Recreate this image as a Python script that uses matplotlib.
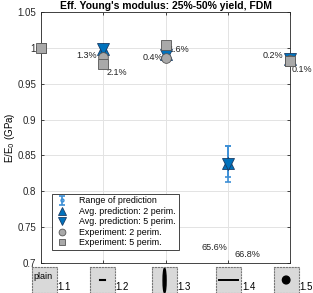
import matplotlib
matplotlib.use('Agg')
import matplotlib.pyplot as plt
from matplotlib.patches import Ellipse
import numpy as np

plt.rcParams['font.family'] = ['Liberation Sans', 'DejaVu Sans']

# data (1.1 is the reference case: no prediction marker drawn)
cases = [1, 2, 3, 4, 5]
case_labels = ['1.1', '1.2', '1.3', '1.4', '1.5']
pred_2p = [np.nan, 0.999, 0.991, 0.839, 0.985]
pred_5p = [np.nan, 0.998, 0.990, 0.838, 0.984]
exp_2p = [1.000, 0.987, 0.986, 0.506, 0.983]
exp_5p = [1.000, 0.978, 1.004, 0.502, 0.982]
range_lo = [0.820, 0.8125]
range_hi = [0.8635, 0.8635]
range_x = [4, 4]
range_mid = [0.839, 0.838]
err_labels = ['1.3%', '2.1%', '0.4%', '1.6%', '65.6%', '66.8%', '0.2%', '0.1%']
err_x = [1.90, 2.05, 2.96, 3.04, 3.58, 4.10, 4.89, 5.03]
err_y = [0.989, 0.965, 0.987, 0.998, 0.722, 0.7125, 0.989, 0.970]
err_ha = ['right', 'left', 'right', 'left', 'left', 'left', 'right', 'left']

blue = '#0072BD'
lblue = '#3d8fd6'
gray = '#a9a9a9'

fig = plt.figure(figsize=(3.13, 2.93), dpi=100)
ax = fig.add_axes([0.131, 0.1024, 0.796, 0.8566])

eb = None
for x, m, lo, hi in zip(range_x, range_mid, range_lo, range_hi):
    eb = ax.errorbar([x], [m], yerr=[[m - lo], [hi - m]], fmt='o', color=lblue,
                     ms=3, mfc='none', mec=lblue, elinewidth=1.2, capsize=2.5,
                     capthick=1.2, zorder=3)
h1, = ax.plot(cases, pred_2p, '^', ms=8, color=blue, mec='#1a3d66', mew=0.6,
              ls='none', zorder=4, clip_on=False)
h2, = ax.plot(cases, pred_5p, 'v', ms=8, color=blue, mec='#1a3d66', mew=0.6,
              ls='none', zorder=4, clip_on=False)
# experiments at 1.4 lie far below the axis; keep them clipped
h3, = ax.plot(cases, exp_2p, 'o', ms=7, color=gray, mec='#555555', mew=0.6,
              ls='none', zorder=5)
h4, = ax.plot(cases, exp_5p, 's', ms=6.5, color=gray, mec='#555555', mew=0.6,
              ls='none', zorder=5)
# unclipped copies for points on the axis edges
edge = [0, 4]
ax.plot([cases[i] for i in edge], [exp_2p[i] for i in edge], 'o', ms=7,
        color=gray, mec='#555555', mew=0.6, ls='none', zorder=5, clip_on=False)
ax.plot([cases[i] for i in edge], [exp_5p[i] for i in edge], 's', ms=6.5,
        color=gray, mec='#555555', mew=0.6, ls='none', zorder=5, clip_on=False)

for t, x, y, ha in zip(err_labels, err_x, err_y, err_ha):
    ax.text(x, y, t, ha=ha, va='center', fontsize=6.5, color='#222222')

ax.set_xlim(1, 5)
ax.set_ylim(0.7, 1.05)
ax.set_xticks(cases)
ax.set_xticklabels([])
yt = [0.7, 0.75, 0.8, 0.85, 0.9, 0.95, 1.0, 1.05]
ax.set_yticks(yt)
ax.set_yticklabels(['0.7', '0.75', '0.8', '0.85', '0.9', '0.95', '1', '1.05'])
ax.tick_params(direction='in', top=True, right=True, labelsize=7,
               length=2.5, width=0.6, colors='#262626')
ax.grid(True, color='#e3e3e3', lw=0.7)
ax.set_axisbelow(True)
for s in ax.spines.values():
    s.set_color('#262626')
    s.set_linewidth(0.6)
ax.set_ylabel('E/E$_0$ (GPa)', fontsize=7, labelpad=0)
ax.set_title("Eff. Young's modulus: 25%-50% yield, FDM", fontsize=7.5,
             fontweight='bold', pad=2)

leg = ax.legend([eb, h1, h2, h3, h4],
                ['Range of prediction', 'Avg. prediction: 2 perim.',
                 'Avg. prediction: 5 perim.', 'Experiment: 2 perim.',
                 'Experiment: 5 perim.'],
                loc='lower left', bbox_to_anchor=(0.025, 0.035), fontsize=6.4,
                fancybox=False, edgecolor='#262626', framealpha=1,
                handlelength=1.8, labelspacing=0.16, borderpad=0.3,
                handletextpad=1.0, markerscale=0.7)
leg.get_frame().set_linewidth(0.6)

# geometry thumbnails under the axis
fig.canvas.draw()
bw, bh = 25 / 313, 26 / 293
shift = [3, -1, -1, 1, -4]
for i, (x, lab) in enumerate(zip(cases, case_labels)):
    px = (ax.transData.transform((x, 0.7))[0] + shift[i]) / fig.bbox.width
    bx = fig.add_axes([px - bw / 2, 0.0, bw, bh])
    bx.set_xlim(0, 1)
    bx.set_ylim(0, 1)
    bx.set_facecolor('#d9d9d9')
    bx.set_xticks([])
    bx.set_yticks([])
    for s in bx.spines.values():
        s.set_linestyle(':')
        s.set_color('#777777')
        s.set_linewidth(0.8)
    if i == 0:
        bx.text(0.08, 0.62, 'plain', fontsize=6.5, va='center', ha='left')
    elif i == 1:
        bx.plot([0.4, 0.6], [0.5, 0.5], color='black', lw=1.5)
    elif i == 2:
        bx.add_patch(Ellipse((0.5, 0.48), 0.12, 0.95, color='black'))
    elif i == 3:
        bx.plot([0.12, 0.88], [0.5, 0.5], color='black', lw=1.4)
    else:
        bx.add_patch(Ellipse((0.5, 0.5), 0.3, 0.3, color='black'))
    fig.text(px + bw / 2 + 0.002, 0.005, lab, fontsize=7, ha='left', va='bottom')

fig.savefig('out.png', dpi=100)
